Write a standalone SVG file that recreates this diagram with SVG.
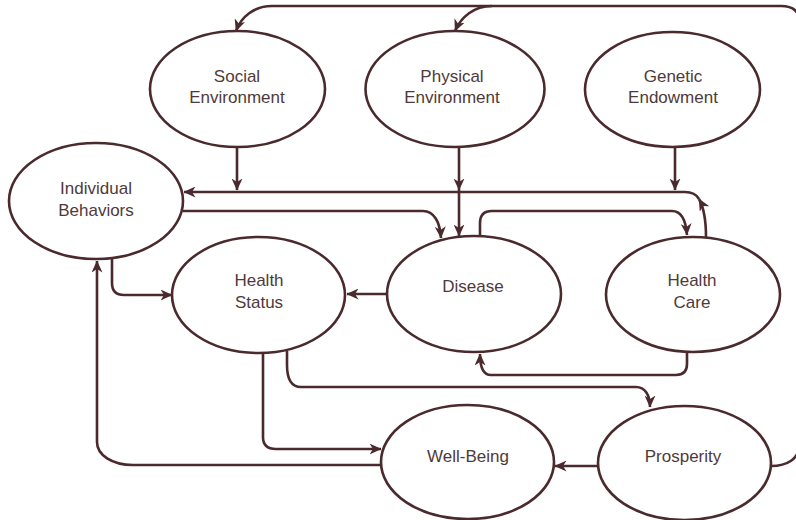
<svg xmlns="http://www.w3.org/2000/svg" width="796" height="520" viewBox="0 0 796 520">
<style>
.n ellipse{fill:#fff;stroke:#4a2a2c;stroke-width:2.6}
.n text{font-family:"Liberation Sans",Arial,sans-serif;font-size:17px;fill:#4f3a3a;text-anchor:middle}
.c path{fill:none;stroke:#4a2a2c;stroke-width:2.6;marker-end:url(#a)}
.c path.p{marker-end:none}
</style>
<defs>
<marker id="a" viewBox="0 0 12 11" refX="11.5" refY="5.5" markerWidth="12" markerHeight="11" markerUnits="userSpaceOnUse" orient="auto">
<path d="M0,0 L12,5.5 L0,11 L3.5,5.5 Z" fill="#4a2a2c"/>
</marker>
</defs>
<rect width="796" height="520" fill="#fff"/>
<g class="c" id="connectors">
<path d="M771,466 C786,466 800,460 800,442 L800,24 Q800,6 781,6 L272,6 C254,6 241,17 236,31"/>
<path d="M492,6 C474,6 461,17 455,31"/>
<path d="M237,147 L237,190"/>
<path d="M459,147 L459,190"/>
<path d="M459,190 L459,236"/>
<path d="M675,147 L675,190"/>
<path d="M706,237 C706,221 704,208 699,199"/>
<path d="M699,199 Q695,192 685,192 L184,192"/>
<path d="M183,211 L423,211 C434,211 440,222 441,238"/>
<path d="M480,236 L480,223 Q480,211 492,211 L672,211 C682,211 686,222 687,235"/>
<path d="M387,294 L347,294"/>
<path d="M687,352 L687,364 Q687,375 676,375 L491,375 C483,375 480,366 480,354"/>
<path d="M112,259 L112,283 Q112,295 124,295 L172,295"/>
<path d="M381,465 L133,465 C112,465 97,455 97,442 L97,261"/>
<path d="M263,353 L263,437 Q263,449 276,449 L381,449"/>
<path d="M287,351 L287,365 C287,380 292,387 301,387 L636,387 C645,387 650,395 650,407"/>
<path d="M598,466 L555,466"/>
</g>
<g class="n" id="social"><ellipse cx="237.5" cy="89" rx="87.5" ry="58"/><text x="237" y="82">Social</text><text x="237" y="103">Environment</text></g>
<g class="n" id="physical"><ellipse cx="455" cy="89" rx="89.5" ry="58"/><text x="452" y="82">Physical</text><text x="452" y="103">Environment</text></g>
<g class="n" id="genetic"><ellipse cx="672.5" cy="89.5" rx="87.5" ry="57.5"/><text x="673" y="82">Genetic</text><text x="673" y="103">Endowment</text></g>
<g class="n" id="individual"><ellipse cx="96" cy="201" rx="87" ry="58"/><text x="96" y="193.5">Individual</text><text x="96" y="215.5">Behaviors</text></g>
<g class="n" id="healthstatus"><ellipse cx="258.5" cy="295" rx="86.5" ry="58"/><text x="259" y="286">Health</text><text x="259" y="308">Status</text></g>
<g class="n" id="disease"><ellipse cx="474" cy="294" rx="87" ry="58"/><text x="473" y="292">Disease</text></g>
<g class="n" id="healthcare"><ellipse cx="693" cy="294.5" rx="87" ry="57.5"/><text x="692" y="286">Health</text><text x="692" y="308">Care</text></g>
<g class="n" id="wellbeing"><ellipse cx="467.5" cy="462" rx="86.5" ry="57"/><text x="468" y="462">Well-Being</text></g>
<g class="n" id="prosperity"><ellipse cx="684.5" cy="463" rx="86.5" ry="57"/><text x="683" y="462">Prosperity</text></g>
</svg>
